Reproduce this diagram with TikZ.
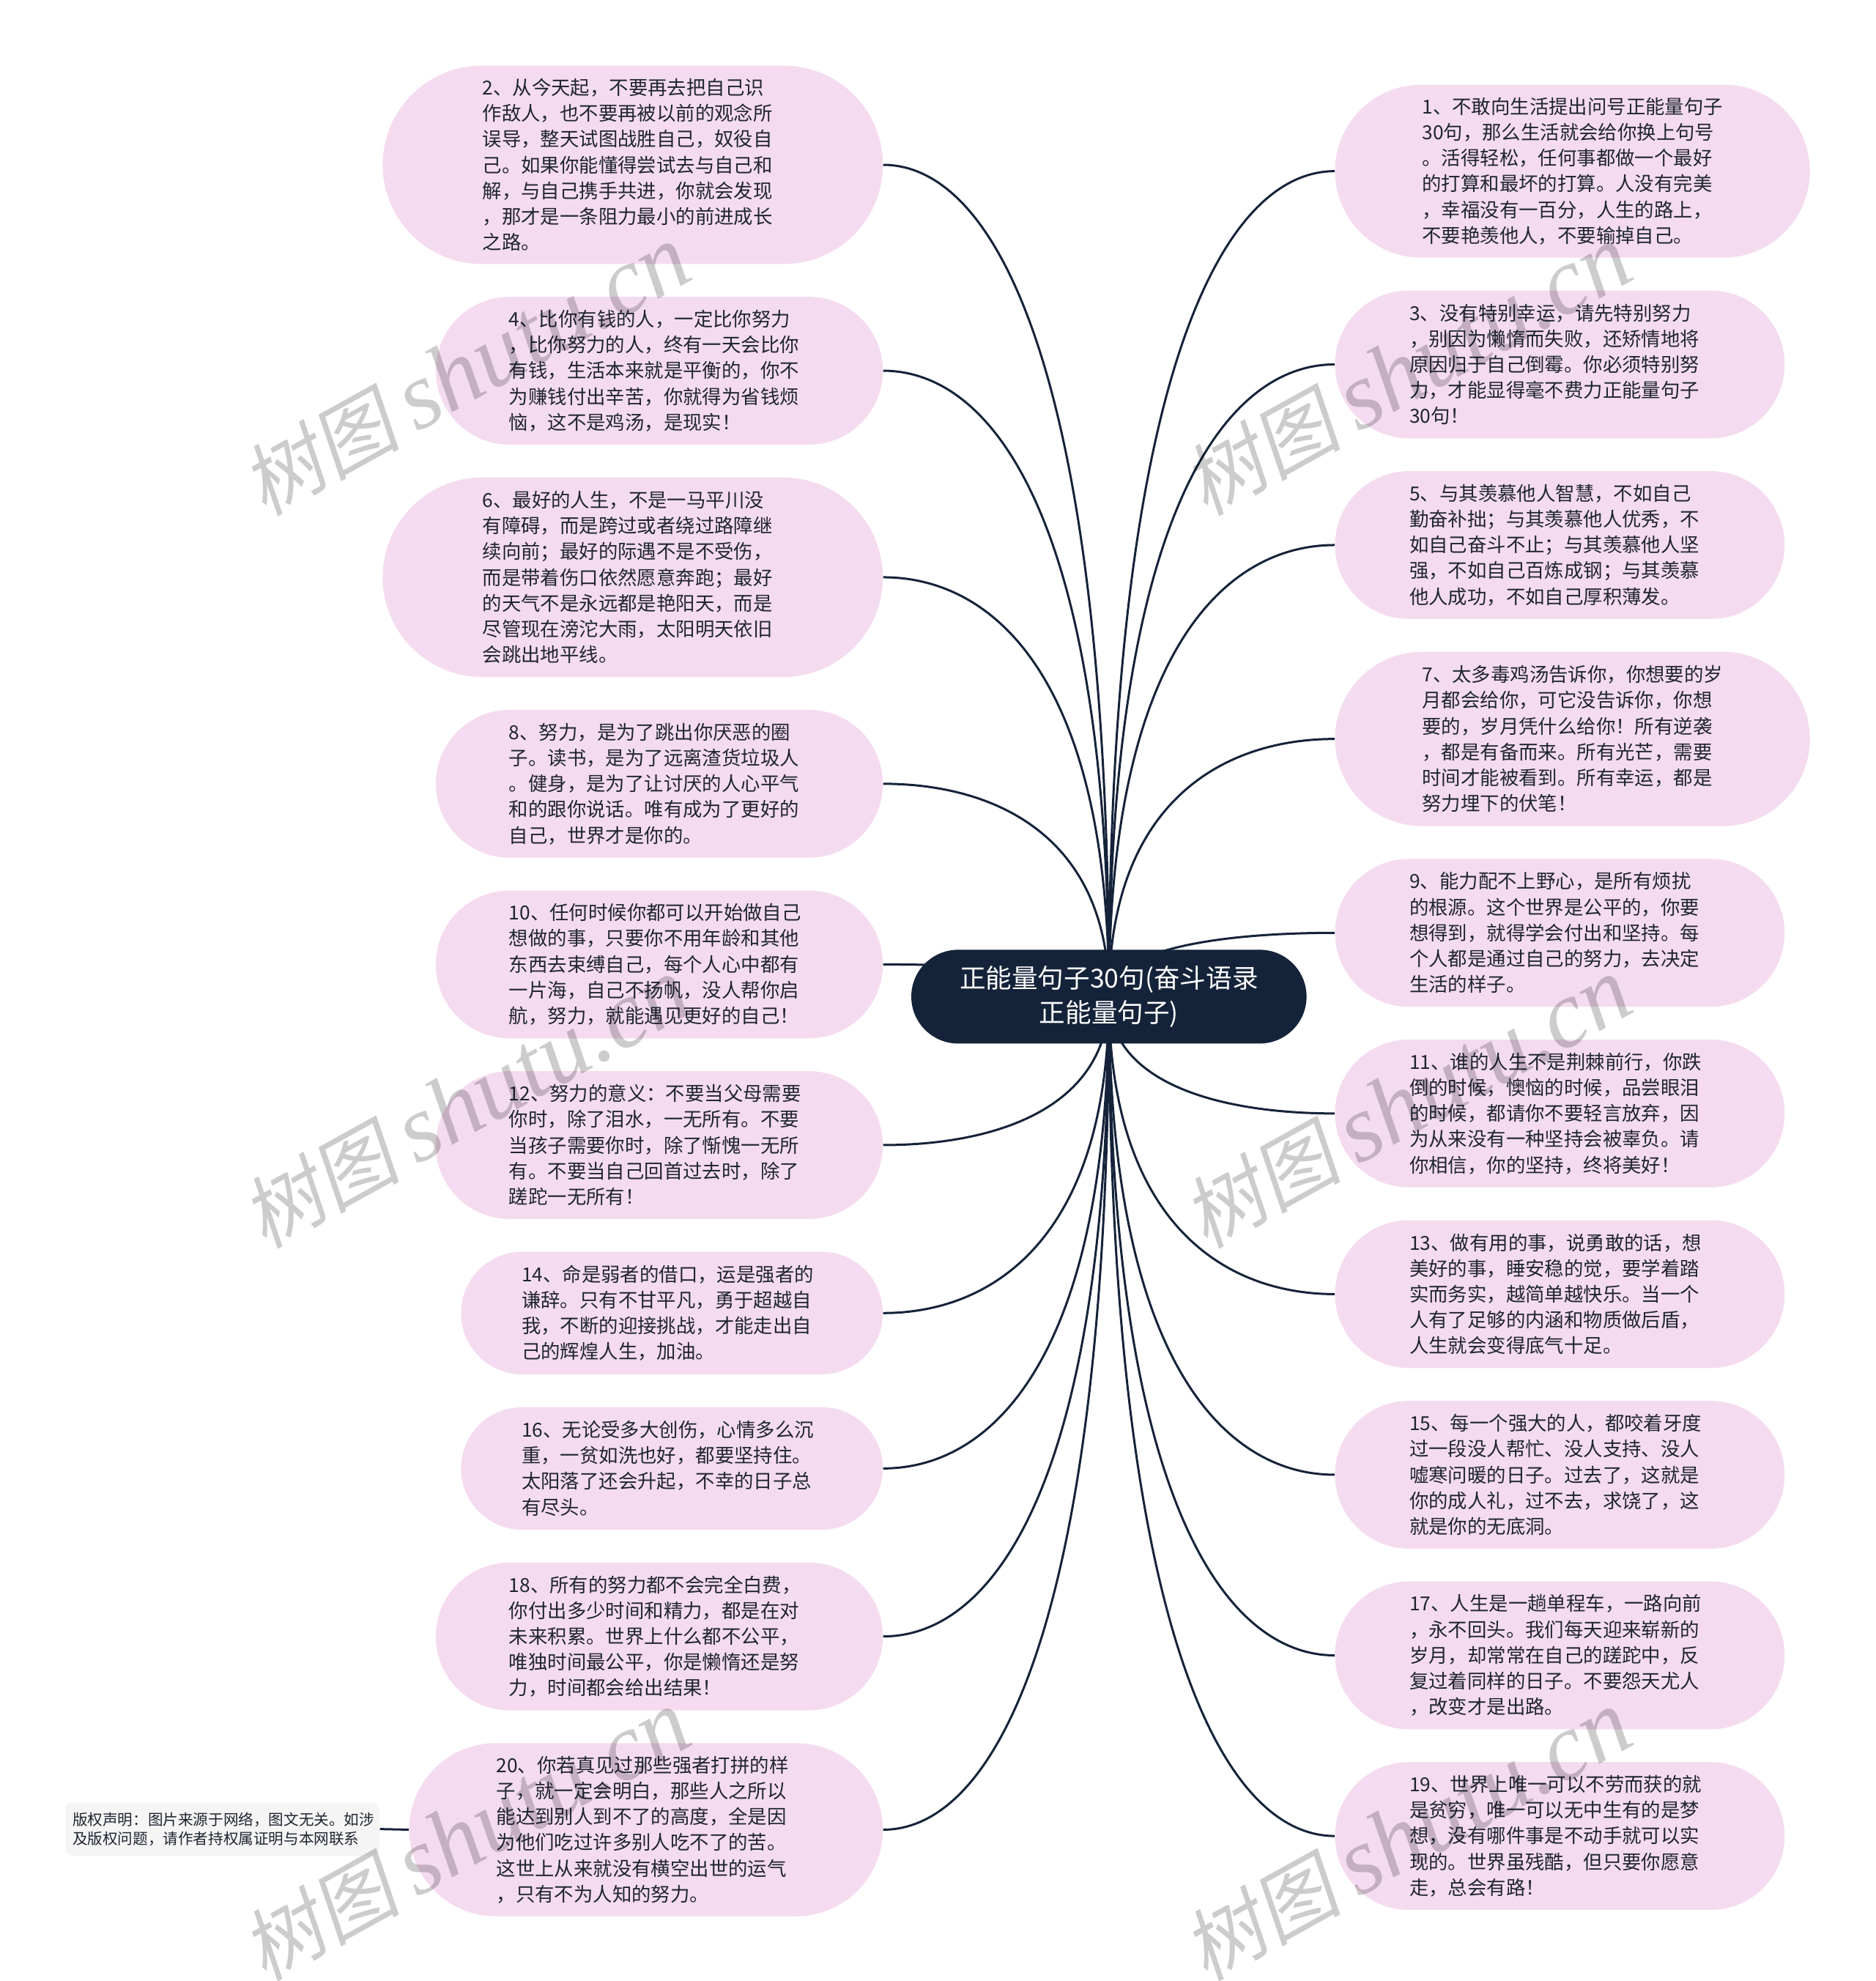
\documentclass[tikz,border=0pt]{standalone}
\usepackage{fontspec}
\usetikzlibrary{shapes.misc,backgrounds,calc}
\newfontfamily\cjk{Noto Sans CJK SC}
\newfontfamily\wmcjk[FakeSlant=0.18]{Noto Sans CJK SC}
\newfontfamily\wmlatin{Liberation Serif}
\definecolor{pinkbox}{HTML}{F5DBF0}
\definecolor{navy}{HTML}{15233A}
\definecolor{ink}{HTML}{1F2530}
\definecolor{grayBox}{HTML}{F5F5F5}
\tikzset{
  pill/.style={rounded rectangle,fill=pinkbox,inner sep=0pt,align=left,text=ink,
    font=\cjk\fontsize{13.2}{17.6}\selectfont},
  rootbox/.style={rounded rectangle,fill=navy,inner sep=0pt,align=center,text=white,
    font=\cjk\fontsize{17.8}{23.3}\selectfont},
  notebox/.style={rectangle,rounded corners=5pt,fill=grayBox,inner sep=0pt,align=left,text=ink,
    font=\cjk\fontsize{10.3}{13}\selectfont},
  linkline/.style={draw=navy,line width=1.5pt},
  wmark/.style={rotate=29,anchor=south west,inner sep=0pt,text=black,opacity=0.2,text opacity=0.2},
}
\newcommand{\pillbox}[7]{%
  \pgfmathsetlengthmacro{\bw}{(#3-#2)*0.86207pt}%
  \pgfmathsetlengthmacro{\bh}{(#5-#4)*0.86207pt}%
  \pgfmathsetlengthmacro{\tw}{((#2+#3)-2*#6)*0.86207pt}%
  \node[pill,minimum width=\bw,minimum height=\bh,text width=\tw] (#1) at ({(#2+#3)/2},{(#4+#5)/2}) {#7};}
\newcommand{\linkto}[1]{%
  \draw[linkline] let \p1=(root.center),\p2=(#1.east) in
    (\p1) .. controls (\x1,{\y1+0.75*(\y2-\y1)}) and ({(\x1+\x2)/2},\y2) .. (\p2);}
\newcommand{\linktow}[1]{%
  \draw[linkline] let \p1=(root.center),\p2=(#1.west) in
    (\p1) .. controls (\x1,{\y1+0.75*(\y2-\y1)}) and ({(\x1+\x2)/2},\y2) .. (\p2);}
\begin{document}
\begin{tikzpicture}[x=0.86207pt,y=-0.86207pt]
\useasboundingbox (0,0) rectangle (1485,1568.3);
\node[rootbox,minimum width=269.8pt,minimum height=64pt] (root) at (878,789) {正能量句子30句(奋斗语录\\正能量句子)};
% left
\pillbox{b2}{303}{699}{52}{209}{382}{2、从今天起，不要再去把自己识\\作敌人，也不要再被以前的观念所\\误导，整天试图战胜自己，奴役自\\己。如果你能懂得尝试去与自己和\\解，与自己携手共进，你就会发现\\，那才是一条阻力最小的前进成长\\之路。}
\pillbox{b4}{345}{699}{235}{352}{403}{4、比你有钱的人，一定比你努力\\，比你努力的人，终有一天会比你\\有钱，生活本来就是平衡的，你不\\为赚钱付出辛苦，你就得为省钱烦\\恼，这不是鸡汤，是现实！}
\pillbox{b6}{303}{699}{378}{536}{382}{6、最好的人生，不是一马平川没\\有障碍，而是跨过或者绕过路障继\\续向前；最好的际遇不是不受伤，\\而是带着伤口依然愿意奔跑；最好\\的天气不是永远都是艳阳天，而是\\尽管现在滂沱大雨，太阳明天依旧\\会跳出地平线。}
\pillbox{b8}{345}{699}{562}{679}{403}{8、努力，是为了跳出你厌恶的圈\\子。读书，是为了远离渣货垃圾人\\。健身，是为了让讨厌的人心平气\\和的跟你说话。唯有成为了更好的\\自己，世界才是你的。}
\pillbox{b10}{345}{699}{705}{822}{403}{10、任何时候你都可以开始做自己\\想做的事，只要你不用年龄和其他\\东西去束缚自己，每个人心中都有\\一片海，自己不扬帆，没人帮你启\\航，努力，就能遇见更好的自己！}
\pillbox{b12}{345}{699}{848}{965}{403}{12、努力的意义：不要当父母需要\\你时，除了泪水，一无所有。不要\\当孩子需要你时，除了惭愧一无所\\有。不要当自己回首过去时，除了\\蹉跎一无所有！}
\pillbox{b14}{365}{699}{991}{1088}{413}{14、命是弱者的借口，运是强者的\\谦辞。只有不甘平凡，勇于超越自\\我，不断的迎接挑战，才能走出自\\己的辉煌人生，加油。}
\pillbox{b16}{365}{699}{1114}{1211}{413}{16、无论受多大创伤，心情多么沉\\重，一贫如洗也好，都要坚持住。\\太阳落了还会升起，不幸的日子总\\有尽头。}
\pillbox{b18}{345}{699}{1237}{1354}{403}{18、所有的努力都不会完全白费，\\你付出多少时间和精力，都是在对\\未来积累。世界上什么都不公平，\\唯独时间最公平，你是懒惰还是努\\力，时间都会给出结果！}
\pillbox{b20}{324}{699}{1380}{1517}{393}{20、你若真见过那些强者打拼的样\\子，就一定会明白，那些人之所以\\能达到别人到不了的高度，全是因\\为他们吃过许多别人吃不了的苦。\\这世上从来就没有横空出世的运气\\，只有不为人知的努力。}
% right
\pillbox{b1}{1057}{1433}{67}{204}{1126}{1、不敢向生活提出问号正能量句子\\30句，那么生活就会给你换上句号\\。活得轻松，任何事都做一个最好\\的打算和最坏的打算。人没有完美\\，幸福没有一百分，人生的路上，\\不要艳羡他人，不要输掉自己。}
\pillbox{b3}{1057}{1413}{230}{347}{1116}{3、没有特别幸运，请先特别努力\\，别因为懒惰而失败，还矫情地将\\原因归于自己倒霉。你必须特别努\\力，才能显得毫不费力正能量句子\\30句！}
\pillbox{b5}{1057}{1413}{373}{490}{1116}{5、与其羡慕他人智慧，不如自己\\勤奋补拙；与其羡慕他人优秀，不\\如自己奋斗不止；与其羡慕他人坚\\强，不如自己百炼成钢；与其羡慕\\他人成功，不如自己厚积薄发。}
\pillbox{b7}{1057}{1433}{516}{654}{1126}{7、太多毒鸡汤告诉你，你想要的岁\\月都会给你，可它没告诉你，你想\\要的，岁月凭什么给你！所有逆袭\\，都是有备而来。所有光芒，需要\\时间才能被看到。所有幸运，都是\\努力埋下的伏笔！}
\pillbox{b9}{1057}{1413}{680}{797}{1116}{9、能力配不上野心，是所有烦扰\\的根源。这个世界是公平的，你要\\想得到，就得学会付出和坚持。每\\个人都是通过自己的努力，去决定\\生活的样子。}
\pillbox{b11}{1057}{1413}{823}{940}{1116}{11、谁的人生不是荆棘前行，你跌\\倒的时候，懊恼的时候，品尝眼泪\\的时候，都请你不要轻言放弃，因\\为从来没有一种坚持会被辜负。请\\你相信，你的坚持，终将美好！}
\pillbox{b13}{1057}{1413}{966}{1083}{1116}{13、做有用的事，说勇敢的话，想\\美好的事，睡安稳的觉，要学着踏\\实而务实，越简单越快乐。当一个\\人有了足够的内涵和物质做后盾，\\人生就会变得底气十足。}
\pillbox{b15}{1057}{1413}{1109}{1226}{1116}{15、每一个强大的人，都咬着牙度\\过一段没人帮忙、没人支持、没人\\嘘寒问暖的日子。过去了，这就是\\你的成人礼，过不去，求饶了，这\\就是你的无底洞。}
\pillbox{b17}{1057}{1413}{1252}{1369}{1116}{17、人生是一趟单程车，一路向前\\，永不回头。我们每天迎来崭新的\\岁月，却常常在自己的蹉跎中，反\\复过着同样的日子。不要怨天尤人\\，改变才是出路。}
\pillbox{b19}{1057}{1413}{1395}{1512}{1116}{19、世界上唯一可以不劳而获的就\\是贫穷，唯一可以无中生有的是梦\\想，没有哪件事是不动手就可以实\\现的。世界虽残酷，但只要你愿意\\走，总会有路！}
% note
\pgfmathsetlengthmacro{\bw}{249*0.86207pt}
\pgfmathsetlengthmacro{\bh}{42*0.86207pt}
\pgfmathsetlengthmacro{\tw}{237*0.86207pt}
\node[notebox,minimum width=\bw,minimum height=\bh,text width=\tw] (note) at (176,1448) {版权声明：图片来源于网络，图文无关。如涉\\及版权问题，请作者持权属证明与本网联系};
% links
\begin{scope}[on background layer]
\foreach \bn in {b2,b4,b6,b8,b10,b12,b14,b16,b18,b20}{\linkto{\bn}}
\foreach \bn in {b1,b3,b5,b7,b9,b11,b13,b15,b17,b19}{\linktow{\bn}}
\draw[linkline] (note.east) -- (b20.west);
\end{scope}
% watermarks
\foreach \i/\x/\y in {1/212/414,2/957/414,3/212/994,4/957/994,5/212/1574,6/957/1574}{
  \node[wmark] (w\i) at (\x,\y) {{\wmcjk\fontsize{54}{60}\selectfont 树图}\hspace{11pt}{\wmlatin\itshape\fontsize{65}{60}\selectfont shutu.cn}};
}
\end{tikzpicture}
\end{document}
